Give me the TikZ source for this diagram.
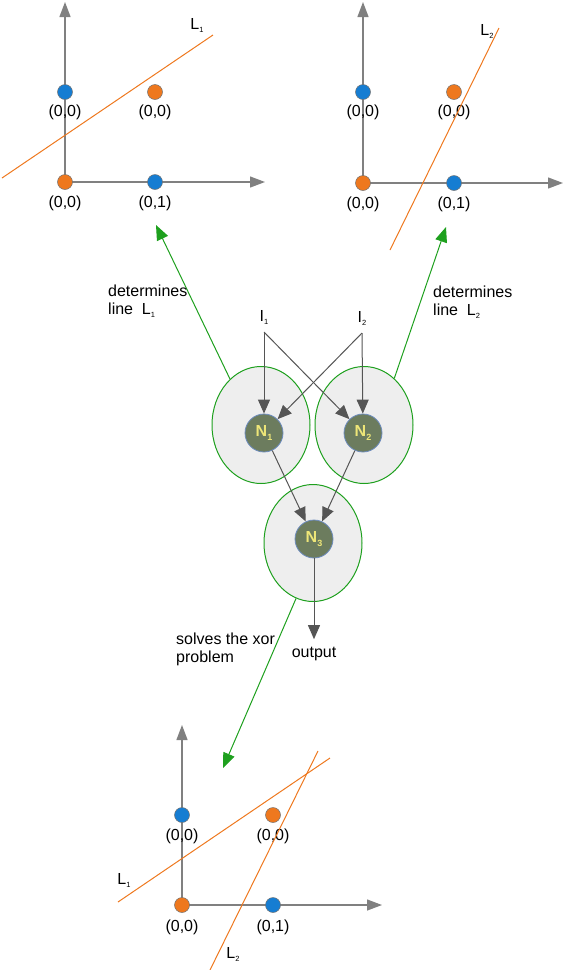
\documentclass[tikz,border=0pt]{standalone}
\usepackage{fontspec}
\setmainfont{Liberation Sans}
\usetikzlibrary{arrows.meta,shapes.geometric}
\definecolor{ptblue}{RGB}{22,125,210}
\definecolor{ptorange}{RGB}{238,120,30}
\definecolor{linegreen}{RGB}{30,160,30}
\definecolor{cellgray}{RGB}{238,238,238}
\definecolor{neurongreen}{RGB}{108,124,94}
\definecolor{neuronedge}{RGB}{110,140,190}
\definecolor{neurontext}{RGB}{238,230,120}
\definecolor{axisgray}{RGB}{128,128,128}
\definecolor{conngray}{RGB}{85,85,85}
\newcommand{\tsub}[1]{\raisebox{-3pt}{\fontsize{7.5}{7.5}\selectfont #1}}
\newcommand{\nsub}[1]{\raisebox{-4pt}{\fontsize{9}{9}\selectfont #1}}

\begin{document}
\begin{tikzpicture}[x=1pt,y=-1pt]
                \tikzset{axis/.style={draw=axisgray,line width=1.3pt,-{Triangle[length=15pt,width=11pt]}},
                ptdot/.style={circle,draw=black!55,line width=0.5pt,minimum size=15pt,inner sep=0pt},
                bluedot/.style={ptdot,fill=ptblue}, orangedot/.style={ptdot,fill=ptorange},
                txt/.style={inner sep=0pt,font=\fontsize{16}{18}\selectfont},
                termtxt/.style={txt,outer sep=8pt},
                sepline/.style={draw=ptorange,line width=1pt},
                cell/.style={ellipse,draw=linegreen,fill=cellgray,line width=1pt,minimum width=98pt,minimum height=117pt},
                neuron/.style={circle,draw=neuronedge,fill=neurongreen,line width=0.8pt,minimum size=38pt,inner sep=0pt,text=neurontext,font=\fontsize{16}{16}\selectfont\bfseries},
                conn/.style={draw=conngray,line width=1pt,-{Triangle[length=14pt,width=12pt]}},
                guide/.style={draw=linegreen,line width=1pt,-{Triangle[length=15pt,width=12pt]}}}

                \useasboundingbox (0,0) rectangle (564,970);

                \coordinate (o1) at (65,182);
                \coordinate (y1) at (65,2);
                \coordinate (x1) at (265,182);
                \draw[axis] (o1) -- (y1);
                \draw[axis] (o1) -- (x1);
                \node[bluedot] (p1a) at (65,92) {};
                \node[orangedot] (p1b) at (155,92) {};
                \node[orangedot] (p1c) at (65,182) {};
                \node[bluedot] (p1d) at (155,182) {};
                \node[txt] (t1a) at (65,112) {(0,0)};
                \node[txt] (t1b) at (155,112) {(0,0)};
                \node[txt] (t1c) at (65,203) {(0,0)};
                \node[txt] (t1d) at (155,203) {(0,1)};
                \coordinate (l1a) at (2,178);
                \coordinate (l1b) at (213,35);
                \draw[sepline] (l1a) -- (l1b);
                \node[txt] (n1lab) at (197,25) {L\tsub{1}};

                \coordinate (o2) at (363,183);
                \coordinate (y2) at (363,2);
                \coordinate (x2) at (563,183);
                \draw[axis] (o2) -- (y2);
                \draw[axis] (o2) -- (x2);
                \node[bluedot] (p2a) at (363,92) {};
                \node[orangedot] (p2b) at (454,92) {};
                \node[orangedot] (p2c) at (363,183) {};
                \node[bluedot] (p2d) at (454,183) {};
                \node[txt] (t2a) at (363,112) {(0,0)};
                \node[txt] (t2b) at (454,112) {(0,0)};
                \node[txt] (t2c) at (363,204) {(0,0)};
                \node[txt] (t2d) at (454,204) {(0,1)};
                \coordinate (l2a) at (390,250);
                \coordinate (l2b) at (499,28);
                \draw[sepline] (l2a) -- (l2b);
                \node[txt] (n2lab) at (487,31) {L\tsub{2}};

                \node[cell] (e1) at (261,425) {};
                \node[cell] (e2) at (364,425) {};
                \node[cell] (e3) at (313,543) {};
                \node[neuron] (n1) at (264,433) {N\nsub{1}};
                \node[neuron] (n2) at (363,433) {N\nsub{2}};
                \node[neuron] (n3) at (314,539) {N\nsub{3}};
                \node[termtxt] (i1) at (264,317) {I\tsub{1}};
                \node[termtxt] (i2) at (362,318) {I\tsub{2}};
                \node[termtxt] (out) at (314,654) {output};
                \draw[conn] (i1.south) -- (n1);
                \draw[conn] (i1.south) -- (n2);
                \draw[conn] (i2.south) -- (n2);
                \draw[conn] (i2.south) -- (n1);
                \draw[conn] (n1) -- (n3);
                \draw[conn] (n2) -- (n3);
                \draw[conn] (n3) -- (out);

                \coordinate (g1) at (156,225);
                \coordinate (g2) at (446,227);
                \coordinate (g3) at (223,768);
                \draw[guide] (e1.124) -- (g1);
                \draw[guide] (e2.57) -- (g2);
                \draw[guide] (e3.253) -- (g3);
                \node[txt,align=left,anchor=west] (d1) at (108,301) {determines\\line\ \ L\tsub{1}};
                \node[txt,align=left,anchor=west] (d2) at (433,302) {determines\\line\ \ L\tsub{2}};
                \node[txt,align=left,anchor=west] (d3) at (176,649) {solves the xor\\problem};

                \coordinate (o3) at (182,905);
                \coordinate (y3) at (182,725);
                \coordinate (x3) at (382,905);
                \draw[axis] (o3) -- (y3);
                \draw[axis] (o3) -- (x3);
                \node[bluedot] (p3a) at (182,815) {};
                \node[orangedot] (p3b) at (273,815) {};
                \node[orangedot] (p3c) at (182,905) {};
                \node[bluedot] (p3d) at (273,905) {};
                \node[txt] (t3a) at (182,836) {(0,0)};
                \node[txt] (t3b) at (273,836) {(0,0)};
                \node[txt] (t3c) at (182,927) {(0,0)};
                \node[txt] (t3d) at (273,927) {(0,1)};
                \coordinate (l3a) at (118,902);
                \coordinate (l3b) at (330,758);
                \coordinate (l4a) at (210,970);
                \coordinate (l4b) at (318,751);
                \draw[sepline] (l3a) -- (l3b);
                \draw[sepline] (l4a) -- (l4b);
                \node[txt] (n3lab) at (124,880) {L\tsub{1}};
                \node[txt] (n4lab) at (233,954) {L\tsub{2}};
            \end{tikzpicture}
\end{document}
